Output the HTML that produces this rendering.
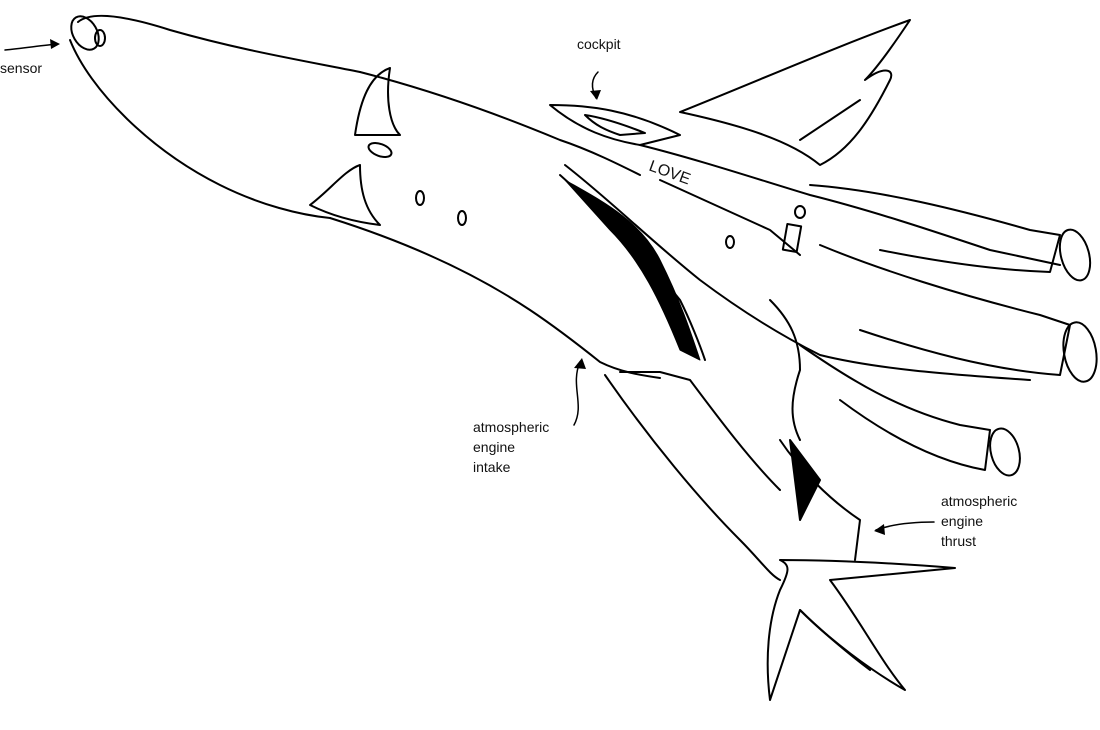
<!DOCTYPE html>
<html><head><meta charset="utf-8"><style>
html,body{margin:0;padding:0;background:#fff;}
svg{display:block}
text{font-family:"Liberation Sans",sans-serif;font-size:14px;fill:#111}
</style></head><body>
<svg width="1100" height="730" viewBox="0 0 1100 730" xmlns="http://www.w3.org/2000/svg">
<g fill="none" stroke="#000" stroke-width="2" stroke-linejoin="round" stroke-linecap="round">
<!-- nose pod -->
<path d="M78,22 C90,12 120,14 170,30 C240,50 300,60 360,72"/>
<path d="M70,40 C90,90 150,150 220,185 C260,205 300,215 330,218"/>
<ellipse cx="85" cy="33" rx="12" ry="18" transform="rotate(-30 85 33)"/>
<ellipse cx="100" cy="38" rx="5" ry="8"/>
<!-- pod fins -->
<path d="M355,135 C360,100 370,75 390,68 C385,100 390,125 400,135 Z"/>
<path d="M310,205 C330,190 345,170 360,165 C360,190 365,210 380,225 C355,222 330,215 310,205 Z"/>
<ellipse cx="380" cy="150" rx="12" ry="6" transform="rotate(20 380 150)"/>
<!-- neck upper -->
<path d="M360,72 C430,90 500,115 560,140 C590,150 620,165 640,175"/>
<!-- neck lower -->
<path d="M330,218 C400,240 470,270 530,310 C560,330 585,350 600,362 C620,372 640,375 660,378"/>
<!-- windows -->
<ellipse cx="420" cy="198" rx="4" ry="7"/>
<ellipse cx="462" cy="218" rx="4" ry="7"/>
<!-- cockpit -->
<path d="M550,105 C590,105 630,110 680,135 L640,145 C610,140 580,130 550,105 Z"/>
<path d="M585,115 C605,118 625,125 645,133 L620,135 C605,130 595,125 585,115 Z"/>
<!-- main body -->
<path d="M640,145 C700,160 760,180 810,195 C870,210 930,230 990,250 L1060,265"/>
<path d="M565,165 C610,200 650,240 700,280 C740,310 780,335 820,355 C880,370 960,375 1030,380"/>
<path d="M560,175 C600,210 640,250 680,300 C690,320 700,345 705,360"/>
<path d="M660,180 L770,230 L800,255"/>
<ellipse cx="800" cy="212" rx="5" ry="6"/>
<rect x="785" y="225" width="14" height="26" transform="rotate(10 792 238)"/>
<ellipse cx="730" cy="242" rx="4" ry="6"/>
<!-- upper wing -->
<path d="M680,112 C760,80 840,45 910,20 C890,50 875,70 865,80 C885,65 895,70 890,80 C870,120 850,150 820,165 C790,140 740,125 680,112"/>
<path d="M800,140 L860,100"/>
<!-- engines -->
<path d="M810,185 C880,190 960,210 1030,230 L1060,235 L1050,272 C990,270 930,260 880,250"/>
<ellipse cx="1075" cy="255" rx="14" ry="26" transform="rotate(-15 1075 255)"/>
<path d="M820,245 C880,270 960,295 1040,315 L1070,325 L1060,375 C990,370 920,350 860,330"/>
<ellipse cx="1080" cy="352" rx="16" ry="30" transform="rotate(-10 1080 352)"/>
<path d="M800,345 C850,380 900,410 960,425 L990,430 L985,470 C930,460 880,430 840,400"/>
<ellipse cx="1005" cy="452" rx="14" ry="24" transform="rotate(-15 1005 452)"/>
<path d="M770,300 C790,320 800,340 800,370 C790,400 790,420 800,440"/>
<!-- lower wing -->
<path d="M605,375 C650,440 700,500 740,540 C760,560 770,575 780,580"/>
<path d="M620,372 L660,372 L690,380 C720,420 750,460 780,490"/>
<path d="M780,440 C800,470 830,500 860,520 L855,560"/>
<path d="M790,440 L820,480 L800,520 Z" fill="#000"/>
<!-- tail -->
<path d="M780,560 C820,560 880,562 955,568 L830,580 C860,620 880,660 905,690 C870,670 830,640 800,610 L770,700 C765,660 768,620 780,590 C790,570 790,565 780,560 Z"/>
<path d="M800,610 C820,630 850,655 870,670"/>
<!-- dark hatch near intake -->
<path d="M565,180 C600,200 640,220 660,260 C680,300 690,330 700,360 L680,350 C660,300 640,260 610,230 Z" fill="#000" stroke-width="1"/>
<!-- connector lines -->
<path d="M5,50 C25,48 45,45 58,44" stroke-width="1.5"/>
<path d="M598,72 C590,80 592,90 596,98" stroke-width="1.5"/>
<path d="M574,425 C585,405 570,385 580,362" stroke-width="1.5"/>
<path d="M934,522 C910,522 890,525 876,530" stroke-width="1.5"/>
</g>
<g fill="#000">
<path d="M60,44 L50,39 L51,49 Z"/>
<path d="M597,100 L590,91 L601,90 Z"/>
<path d="M582,358 L574,368 L586,369 Z"/>
<path d="M874,531 L884,524 L885,535 Z"/>
</g>
<text x="0" y="73">sensor</text>
<text x="577" y="49">cockpit</text>
<text x="473" y="432">atmospheric</text>
<text x="473" y="452">engine</text>
<text x="473" y="472">intake</text>
<text x="941" y="506">atmospheric</text>
<text x="941" y="526">engine</text>
<text x="941" y="546">thrust</text>
<text x="648" y="170" transform="rotate(20 648 170)" style="font-size:16px">LOVE</text>
</svg>
</body></html>
